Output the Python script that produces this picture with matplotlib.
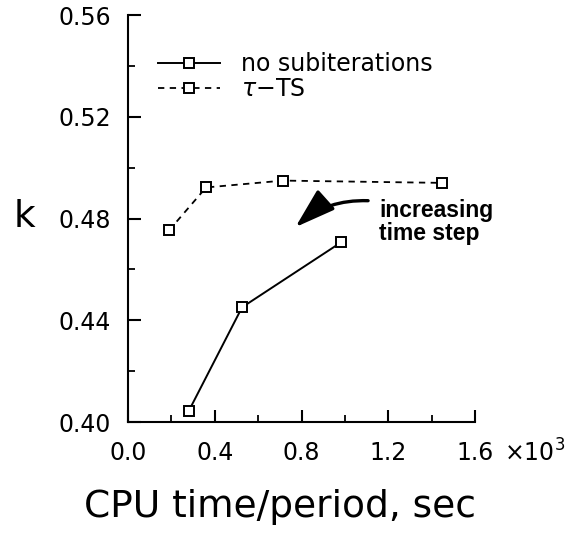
import matplotlib
matplotlib.use("Agg")
import matplotlib.pyplot as plt
from matplotlib.ticker import MultipleLocator, FormatStrFormatter

# CPU time per period (x 10^3 sec) and k
cpu_nosub = [0.28, 0.526, 0.982]
k_nosub = [0.4043, 0.4451, 0.4706]
cpu_tau = [0.189, 0.36, 0.715, 1.448]
k_tau = [0.4753, 0.4922, 0.4949, 0.4940]

fig = plt.figure(figsize=(5.68, 5.35), dpi=100)
ax = fig.add_axes([128 / 568, 1 - 422 / 535, (475 - 128) / 568, (422 - 15) / 535])

ax.plot(cpu_nosub, k_nosub, color="black", lw=1.4, marker="s", ms=7,
        mfc="white", mec="black", mew=1.4, label="no subiterations", clip_on=False)
ax.plot(cpu_tau, k_tau, color="black", lw=1.3, ls=(0, (3.5, 3)), marker="s", ms=7,
        mfc="white", mec="black", mew=1.4, label=r"$\tau$" + "\u2212TS", clip_on=False)

ax.set_xlim(0, 1.6)
ax.set_ylim(0.40, 0.56)
ax.xaxis.set_major_locator(MultipleLocator(0.4))
ax.xaxis.set_minor_locator(MultipleLocator(0.2))
ax.yaxis.set_major_locator(MultipleLocator(0.04))
ax.yaxis.set_minor_locator(MultipleLocator(0.02))
ax.xaxis.set_major_formatter(FormatStrFormatter("%.1f"))
ax.yaxis.set_major_formatter(FormatStrFormatter("%.2f"))

for s in ["top", "right"]:
    ax.spines[s].set_visible(False)
for s in ["left", "bottom"]:
    ax.spines[s].set_linewidth(1.5)

ax.tick_params(which="major", direction="in", length=9, width=1.5,
               labelsize=17, pad=12)
ax.tick_params(axis="x", which="major", pad=14)
ax.tick_params(which="minor", direction="in", length=5, width=1.3)

# axis titles placed like the original figure
fig.text(280 / 568, 1 - 507 / 535, "CPU time/period, sec", fontsize=27,
         ha="center", va="center")
fig.text(24 / 568, 1 - 217 / 535, "k", fontsize=27, ha="center", va="center")
fig.text(504 / 568, 1 - 453 / 535, "\u00d710$^3$", fontsize=17, ha="left", va="center")

ax.legend(loc="upper left", bbox_to_anchor=(0.06, 0.932), frameon=False,
          fontsize=17, handlelength=2.6, handletextpad=0.9, labelspacing=0.05,
          borderaxespad=0)

ax.annotate("", xy=(0.772, 0.4766), xytext=(1.107, 0.487),
            arrowprops=dict(arrowstyle="-|>,head_length=1.25,head_width=0.4",
                            mutation_scale=20, color="black", lw=2.4,
                            shrinkA=0, shrinkB=0,
                            connectionstyle="arc3,rad=0.2"))
ax.text(1.157, 0.4878, "increasing\ntime step", fontsize=16.5, fontweight="bold",
        family="Liberation Sans", ha="left", va="top", linespacing=1.0)

fig.savefig("out.png", dpi=100)
